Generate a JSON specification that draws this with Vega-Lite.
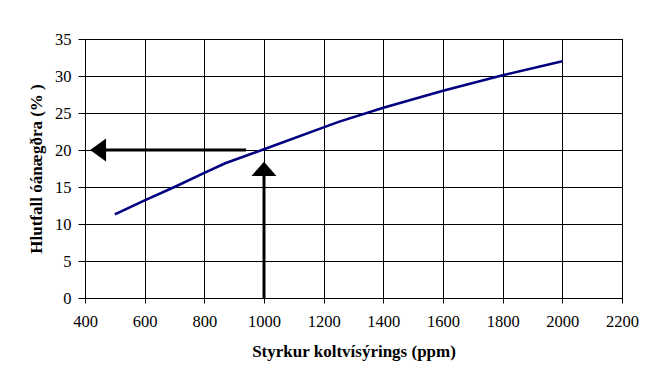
{
  "$schema": "https://vega.github.io/schema/vega-lite/v6.json",
  "autosize": {"type": "none"},
  "width": 537,
  "height": 259,
  "padding": {"left": 85, "top": 39, "right": 23, "bottom": 82},
  "background": "white",
  "config": {
    "view": {"stroke": "black", "strokeWidth": 1},
    "font": "Liberation Serif",
    "axis": {
      "labelFont": "Liberation Serif",
      "labelFontSize": 16.5,
      "labelColor": "black",
      "titleFont": "Liberation Serif",
      "titleFontSize": 17,
      "titleFontWeight": "bold",
      "titleColor": "black",
      "domainColor": "black",
      "tickColor": "black",
      "gridColor": "black",
      "gridOpacity": 1,
      "gridWidth": 1
    }
  },
  "datasets": {
    "curve": [
      {"ppm": 500, "pct": 11.3},
      {"ppm": 600, "pct": 13.2},
      {"ppm": 700, "pct": 15.0},
      {"ppm": 800, "pct": 16.9},
      {"ppm": 870, "pct": 18.2},
      {"ppm": 1000, "pct": 20.1},
      {"ppm": 1250, "pct": 23.8},
      {"ppm": 1400, "pct": 25.7},
      {"ppm": 1600, "pct": 28.0},
      {"ppm": 1800, "pct": 30.1},
      {"ppm": 2000, "pct": 32.0}
    ],
    "shafts": [
      {"ppm": 1000, "pct": 0, "ppm2": 1000, "pct2": 17},
      {"ppm": 940, "pct": 20, "ppm2": 440, "pct2": 20}
    ],
    "heads": [
      {"ppm": 417, "pct": 20, "dir": "left"},
      {"ppm": 1000, "pct": 18.4, "dir": "up"}
    ]
  },
  "encoding": {
    "x": {
      "field": "ppm",
      "type": "quantitative",
      "scale": {"domain": [400, 2200], "nice": false},
      "axis": {
        "values": [400, 600, 800, 1000, 1200, 1400, 1600, 1800, 2000, 2200],
        "format": "d",
        "title": "Styrkur koltvísýrings (ppm)",
        "tickSize": 5,
        "labelPadding": 10,
        "titlePadding": 14,
        "grid": true,
        "labelFlush": false,
        "labelOverlap": false
      }
    },
    "y": {
      "field": "pct",
      "type": "quantitative",
      "scale": {"domain": [0, 35], "nice": false},
      "axis": {
        "values": [0, 5, 10, 15, 20, 25, 30, 35],
        "title": "Hlutfall óánægðra (% )",
        "tickSize": 7,
        "labelPadding": 7,
        "titlePadding": 9,
        "grid": true,
        "labelOverlap": false,
        "labelFlush": false
      }
    }
  },
  "layer": [
    {
      "data": {"name": "curve"},
      "mark": {"type": "line", "color": "#000080", "strokeWidth": 2.6}
    },
    {
      "data": {"name": "shafts"},
      "mark": {"type": "rule", "color": "black", "strokeWidth": 3},
      "encoding": {
        "x2": {"field": "ppm2"},
        "y2": {"field": "pct2"}
      }
    },
    {
      "data": {"name": "heads"},
      "mark": {"type": "point", "filled": true, "color": "black", "opacity": 1, "size": 576},
      "encoding": {
        "shape": {
          "field": "dir",
          "type": "nominal",
          "scale": {
            "domain": ["left", "up"],
            "range": ["M0,0L1.33,-0.96L1.33,0.96Z", "M0,0L1.04,1.17L-1.04,1.17Z"]
          },
          "legend": null
        }
      }
    }
  ]
}
